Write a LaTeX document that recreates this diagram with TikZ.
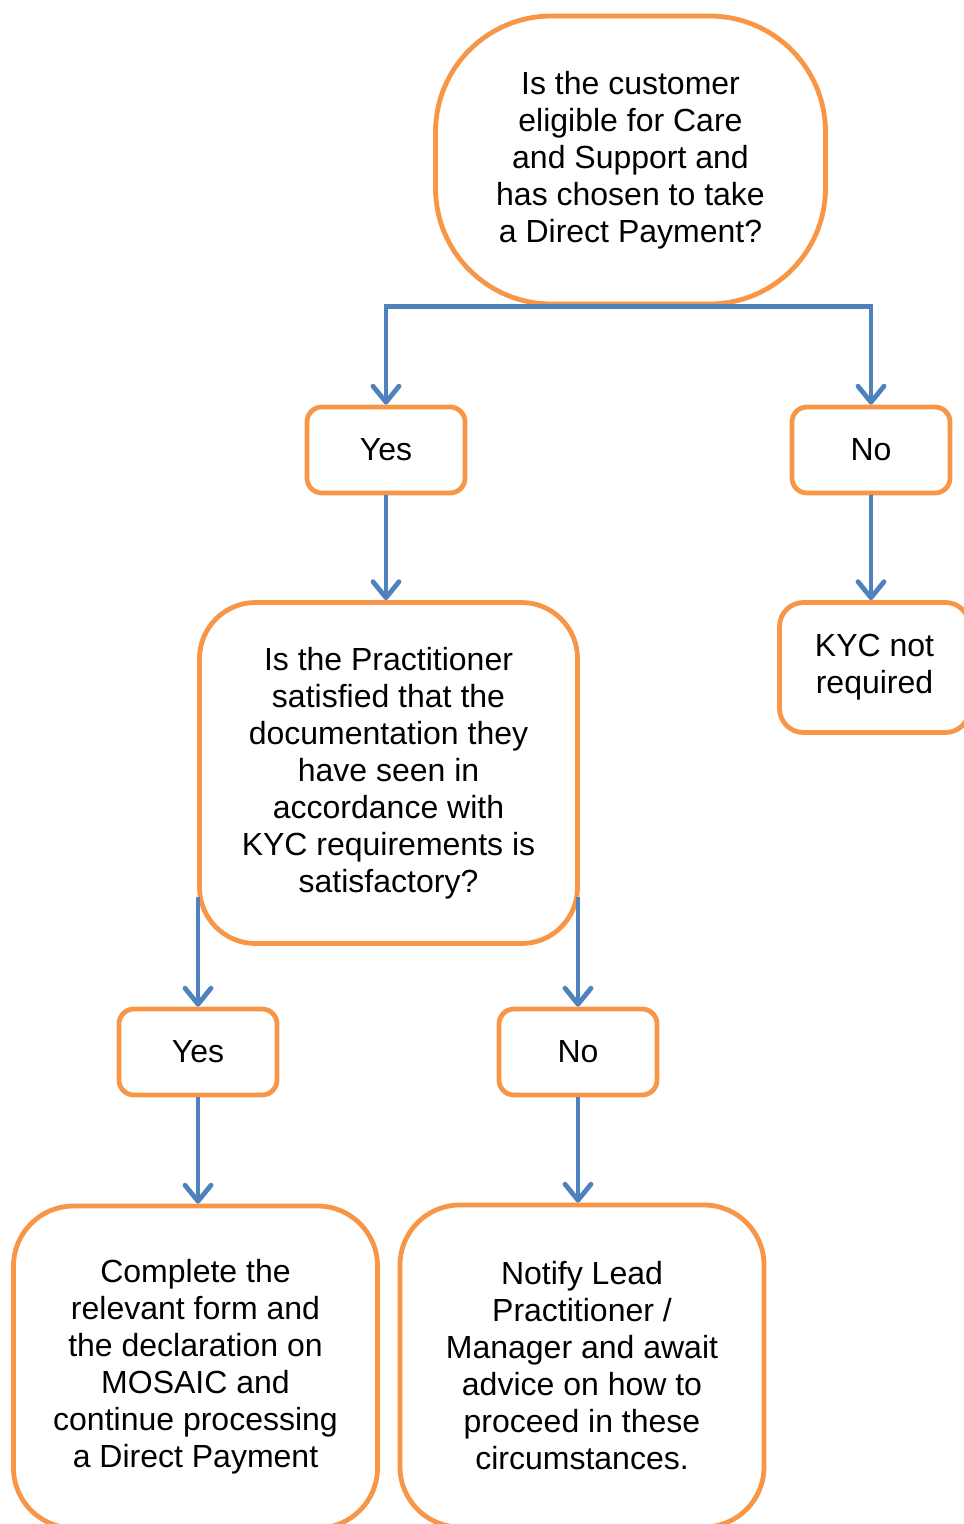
\documentclass[tikz,border=0pt]{standalone}
\usepackage{fontspec}
\setmainfont{Liberation Sans}
\usepackage{tikz}
\usetikzlibrary{arrows.meta}
\definecolor{boxorange}{RGB}{247,150,70}
\definecolor{flowblue}{RGB}{79,129,189}

\begin{document}
\begin{tikzpicture}[x=0.5pt,y=-0.5pt,
    box/.style={draw=boxorange,line width=2.4pt,fill=white,align=center,inner sep=0pt,
      font=\fontsize{16}{18.5}\selectfont},
    answer/.style={box,minimum width=79pt,minimum height=43pt,rounded corners=7.5pt},
    flow/.style={draw=flowblue,line width=2.4pt,
      -{Straight Barb[length=8pt,width=13pt,round]}}]
        \useasboundingbox (0,0) rectangle (963,1524);
        %questions
        \node[box,minimum width=195pt,minimum height=144pt,rounded corners=58pt] (q1) at (630.5,160)
          {\raisebox{-2pt}{\parbox{150pt}{\centering Is the customer\\eligible for Care\\and Support and\\has chosen to take\\a Direct Payment?}}};
        \node[box,minimum width=189pt,minimum height=170.5pt,rounded corners=28pt] (q2) at (388.5,773)
          {Is the Practitioner\\satisfied that the\\documentation they\\have seen in\\accordance with\\KYC requirements is\\satisfactory?};
        %answers
        \node[answer] (yes1) at (386,450) {Yes};
        \node[answer] (no1) at (871,450) {No};
        \node[answer] (yes2) at (198,1052) {Yes};
        \node[answer] (no2) at (578,1052) {No};
        %outcomes
        \node[box,minimum width=95pt,minimum height=65pt,rounded corners=12pt] (kyc) at (874.5,667.5)
          {KYC not\\required};
        \node[box,minimum width=182pt,minimum height=161pt,rounded corners=30pt] (done) at (195.5,1367)
          {Complete the\\relevant form and\\the declaration on\\MOSAIC and\\continue processing\\a Direct Payment};
        \node[box,minimum width=182pt,minimum height=161pt,rounded corners=30pt] (notify) at (582,1366)
          {Notify Lead\\Practitioner /\\Manager and await\\advice on how to\\proceed in these\\circumstances.};
        \coordinate (q2yes) at (198,897);
        \coordinate (q2no) at (578,897);

        \draw[flow] (q1.south) -| (yes1.north);
        \draw[flow] (q1.south) -| (no1.north);
        \foreach \a/\b in {yes1/q2, no1/kyc, yes2/done, no2/notify}
        \draw[flow] (\a.south) -- (\a.south |- \b.north);
        \draw[flow] (q2yes) -- (yes2.north);
        \draw[flow] (q2no) -- (no2.north);
    \end{tikzpicture}
\end{document}
